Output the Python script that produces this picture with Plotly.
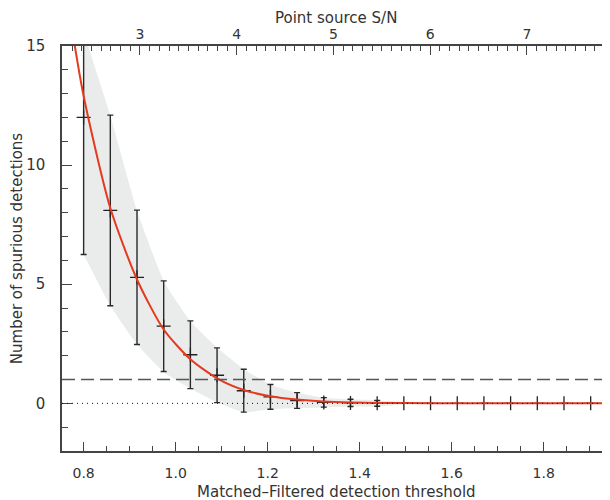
import plotly.graph_objects as go

# detection threshold of each simulated point
bar_x = [0.800, 0.858, 0.916, 0.974, 1.032, 1.090, 1.148, 1.206, 1.264, 1.322,
         1.380, 1.438, 1.496, 1.554, 1.612, 1.670, 1.728, 1.786, 1.844, 1.902]
bar_y = [12.0, 8.1, 5.29, 3.24, 2.04, 1.18, 0.53, 0.27, 0.12, 0.04,
         0.02, 0.0, 0.0, 0.0, 0.0, 0.0, 0.0, 0.0, 0.0, 0.0]
bar_err = [5.75, 4.0, 2.82, 1.9, 1.42, 1.15, 0.9, 0.52, 0.33, 0.2,
           0.15, 0.12, 0.0, 0.0, 0.0, 0.0, 0.0, 0.0, 0.0, 0.0]

# shaded envelope
band_x = [0.800, 0.858, 0.916, 0.974, 1.032, 1.090, 1.148, 1.206, 1.264, 1.322,
          1.380, 1.438, 1.496, 1.554]
band_upper = [15.6, 12.07, 8.1, 5.14, 3.46, 2.34, 1.43, 0.78, 0.45, 0.24,
              0.17, 0.13, 0.05, 0.0]
band_lower = [6.25, 4.1, 2.47, 1.32, 0.62, 0.04, -0.37, -0.25, -0.2, -0.17,
              -0.13, -0.13, -0.05, 0.0]

# model curve (red)
model_x = [0.770, 0.800, 0.858, 0.916, 0.974, 1.032, 1.090, 1.148, 1.206,
           1.264, 1.322, 1.380, 1.438, 1.496, 1.600, 1.950]
model_y = [16.3, 12.9, 8.2, 5.2, 3.1, 1.85, 1.05, 0.56, 0.3,
           0.16, 0.08, 0.04, 0.02, 0.01, 0.0, 0.0]

x_range = [0.753, 1.944]
sn_range = [2.194, 7.858]
y_range = [-2, 15]
one_level = 1
zero_level = 0

font = "DejaVu Sans"
axcol = "#444444"
txtcol = "#333333"

fig = go.Figure()

fig.add_trace(go.Scatter(
    x=band_x, y=band_lower, mode="lines",
    line=dict(width=0, shape="spline", smoothing=0.4),
    hoverinfo="skip", showlegend=False
))
fig.add_trace(go.Scatter(
    x=band_x, y=band_upper, mode="lines",
    line=dict(width=0, shape="spline", smoothing=0.4),
    fill="tonexty", fillcolor="rgb(234,236,236)",
    hoverinfo="skip", showlegend=False
))

fig.add_trace(go.Scatter(
    x=bar_x, y=bar_y, mode="markers",
    marker=dict(symbol="cross-thin", size=10,
                line=dict(width=1.3, color="#222222")),
    error_y=dict(type="data", array=bar_err, visible=True,
                 color="#2a2a2a", thickness=1.4, width=3),
    showlegend=False
))

fig.add_trace(go.Scatter(
    x=model_x, y=model_y, mode="lines",
    line=dict(color="#e53a20", width=2, shape="spline", smoothing=0.7),
    showlegend=False
))

# dummy trace so the top axis is drawn
fig.add_trace(go.Scatter(
    x=sn_range, y=[None, None], xaxis="x2", mode="lines",
    showlegend=False, hoverinfo="skip"
))

fig.add_shape(type="line", xref="paper", yref="y", x0=0, x1=1,
              y0=one_level, y1=one_level, layer="above",
              line=dict(color="#555555", width=1.4, dash="13px,6px"))
fig.add_shape(type="line", xref="paper", yref="y", x0=0, x1=1,
              y0=zero_level, y1=zero_level, layer="above",
              line=dict(color="#111111", width=1, dash="1px,4px"))

# axis titles for the x axes as annotations, placed like the original
fig.add_annotation(text="Point source S/N", xref="paper", yref="paper",
                   x=0.5, y=1.069, yanchor="middle", showarrow=False,
                   font=dict(size=15, color=txtcol))
fig.add_annotation(text="Matched\u2013Filtered detection threshold",
                   xref="paper", yref="paper",
                   x=0.5, y=-0.1, yanchor="middle", showarrow=False,
                   font=dict(size=15, color=txtcol))

# page body has an 8px margin, so the figure is shrunk by 8px
fig.update_layout(
    width=602, height=492,
    margin=dict(l=54, r=0, t=38, b=49),
    paper_bgcolor="white", plot_bgcolor="white",
    font=dict(family=font, size=15, color=txtcol),
    xaxis=dict(
        range=x_range, dtick=0.2, tick0=0, tickformat=".1f",
        ticks="inside", ticklen=9, tickwidth=1.3, tickcolor=axcol,
        minor=dict(dtick=0.05, ticks="inside", ticklen=5,
                   tickwidth=1.1, tickcolor=axcol),
        showline=True, linecolor=axcol, linewidth=1.5,
        showgrid=False, zeroline=False, ticklabelstandoff=8,
        tickfont=dict(size=14), automargin=False
    ),
    xaxis2=dict(
        range=sn_range, overlaying="x", side="top", anchor="y",
        dtick=1, tick0=0,
        ticks="inside", ticklen=9, tickwidth=1.3, tickcolor=axcol,
        minor=dict(dtick=0.1, ticks="inside", ticklen=5,
                   tickwidth=1.1, tickcolor=axcol),
        showline=True, linecolor=axcol, linewidth=1.5,
        showgrid=False, zeroline=False, ticklabelstandoff=0,
        tickfont=dict(size=14), automargin=False
    ),
    yaxis=dict(
        range=y_range, dtick=5, tick0=0,
        ticks="inside", ticklen=10, tickwidth=1.3, tickcolor=axcol,
        minor=dict(dtick=1, ticks="inside", ticklen=6,
                   tickwidth=1.1, tickcolor=axcol),
        showline=True, linecolor=axcol, linewidth=1.5,
        showgrid=False, zeroline=False, ticklabelstandoff=12,
        tickfont=dict(size=15), automargin=False,
        title=dict(text="Number of spurious detections",
                   standoff=6, font=dict(size=15))
    )
)

fig.write_html("out.html")
